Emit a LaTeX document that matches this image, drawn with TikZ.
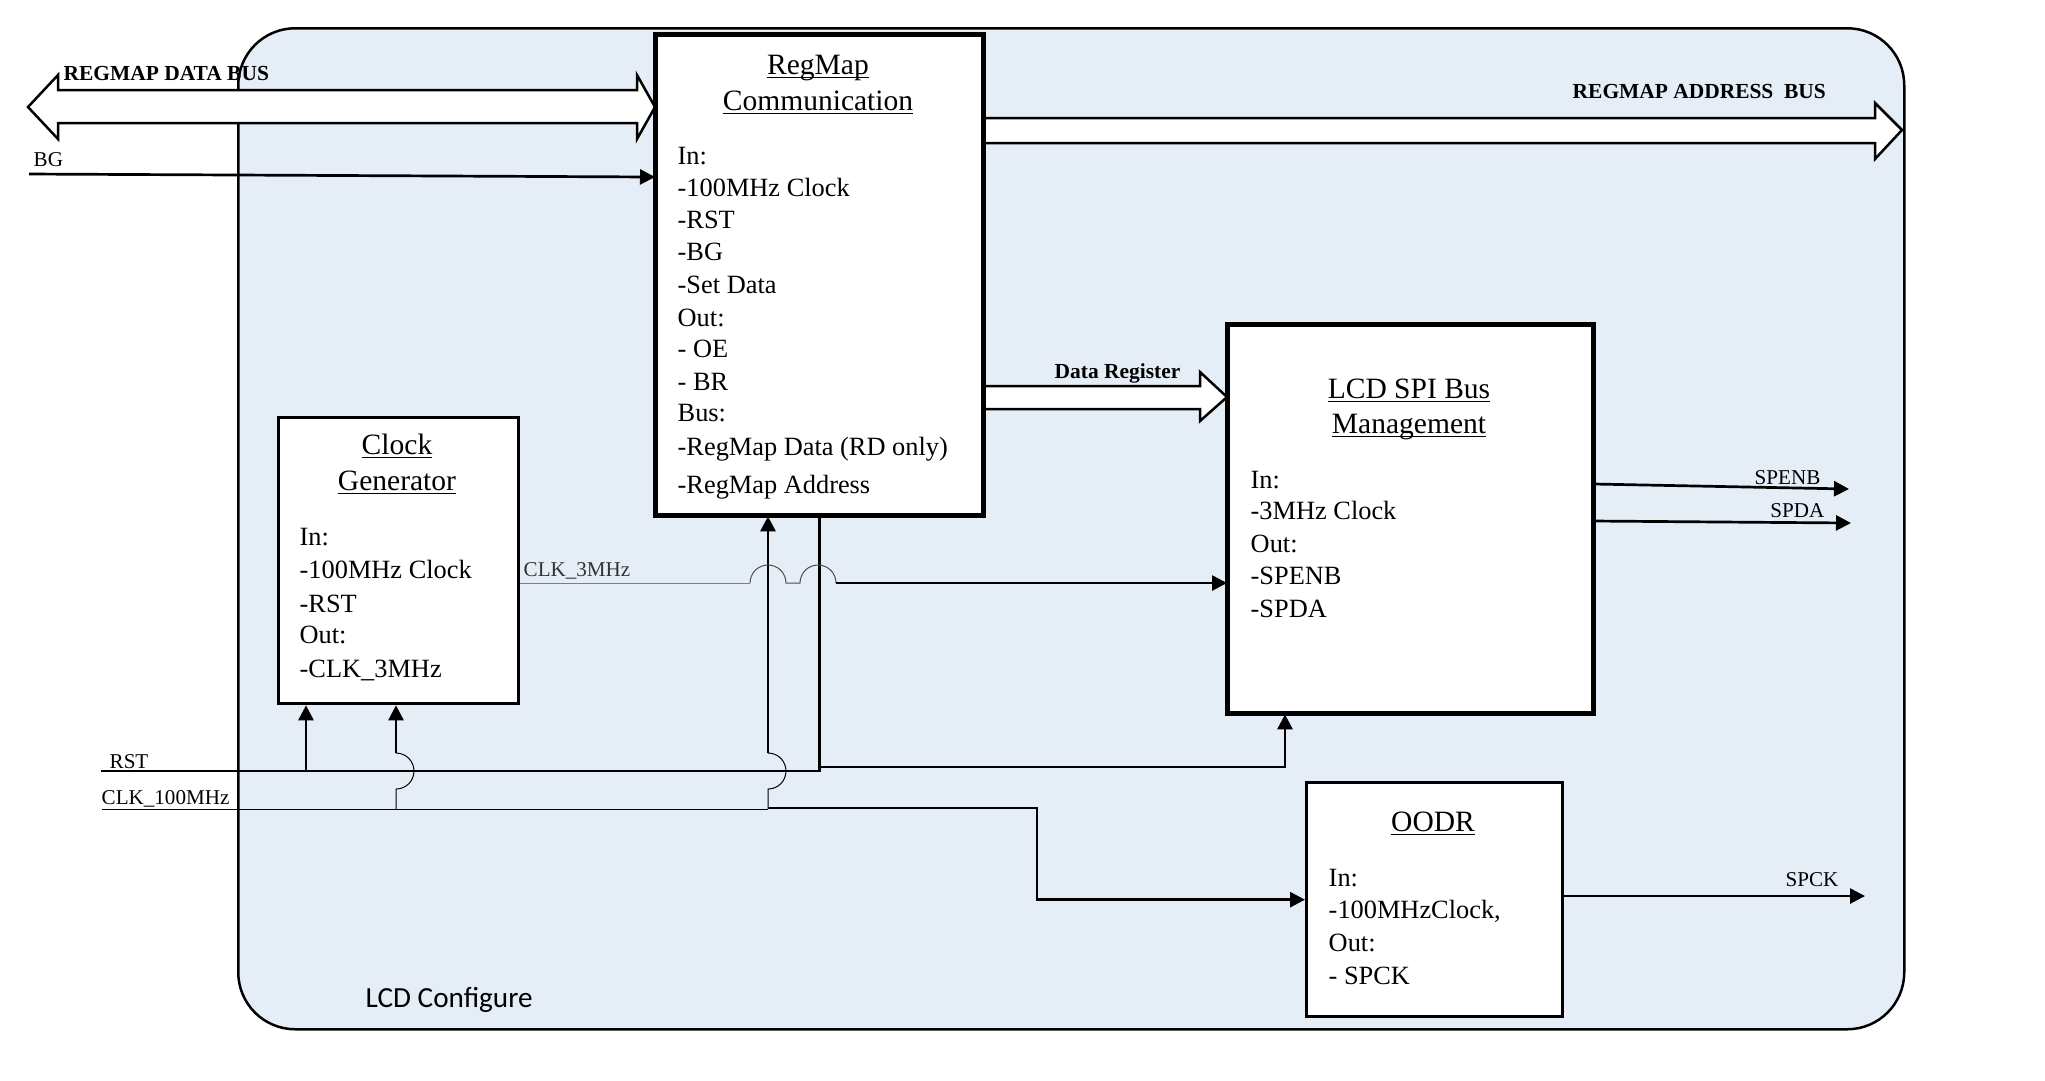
\documentclass[tikz,border=0pt]{standalone}
\usepackage{fontspec}
\setmainfont{Liberation Serif}
\newfontfamily\califont{Carlito}
\usetikzlibrary{arrows.meta}
\definecolor{cfgfill}{HTML}{E5EDF7}
\definecolor{wiregray}{HTML}{7F7F7F}
\newcommand{\ulx}[1]{\setbox0\hbox{#1}\rlap{\rule[-1.1pt]{\wd0}{0.35pt}}\box0}
\begin{document}
\begin{tikzpicture}[x=0.1mm,y=-0.1mm,
  blockbox/.style={draw,line width=0.33mm,fill=white,inner sep=0,anchor=north west},
  wire/.style={line width=0.27mm},
  arr/.style={wire,-{Triangle[length=1.5mm,width=1.5mm]}},
  thinwire/.style={line width=0.1mm},
  bus/.style={line width=0.25mm,fill=white,line join=miter},
  bodytxt/.style={inner sep=0,anchor=base west,font=\fontsize{7.5}{9}\selectfont},
  ttl/.style={inner sep=0,anchor=base,font=\fontsize{8.4}{10}\selectfont},
  lbl/.style={inner sep=0,font=\fontsize{6}{7}\selectfont},
  blbl/.style={inner sep=0,anchor=base west,font=\fontsize{6.1}{7}\selectfont\bfseries}]
\useasboundingbox (0,0) rectangle (2045,1080);

% container
\node[draw,line width=0.25mm,fill=cfgfill,rounded corners=5.7mm,inner sep=0,
      anchor=north west,minimum width=166.6mm,minimum height=100.1mm] (cfg) at (237,27) {};
\node[inner sep=0,anchor=base west,font=\califont\fontsize{8.3}{10}\selectfont] (cfglbl) at (365,1007) {LCD Configure};

% blocks
\node[blockbox,minimum width=32.6mm,minimum height=47.9mm] (regmap) at (655,34) {};
\node[blockbox,minimum width=24.0mm,minimum height=28.6mm] (clockgen) at (277,416) {};
\node[blockbox,minimum width=36.4mm,minimum height=38.7mm] (lcd) at (1227,324) {};
\node[blockbox,minimum width=25.6mm,minimum height=23.4mm] (oodr) at (1305,781) {};

% data bus (double arrow)
\draw[bus] (28,107) -- (58,75) -- (58,90) -- (637,90) -- (637,75) -- (regmap.west |- 0,107)
  -- (637,139) -- (637,123) -- (58,123) -- (58,139) -- cycle;
\node[blbl] (dbuslbl) at (63,80) {REGMAP DATA BUS};

% address bus
\draw[bus] (regmap.east |- 0,118) -- (1875,118) -- (1875,103) -- (1902,130) -- (1875,159)
  -- (1875,143) -- (regmap.east |- 0,143);
\node[blbl] (abuslbl) at (1572,98) {REGMAP ADDRESS\ \ BUS};

% data register bus
\draw[bus] (regmap.east |- 0,386) -- (1200,386) -- (1200,372) -- (lcd.west |- 0,397)
  -- (1200,421) -- (1200,409) -- (regmap.east |- 0,409);
\node[blbl] (drlbl) at (1054,378) {Data Register};

% redraw block borders on top of bus tips
\draw[line width=0.33mm] (regmap.north west) rectangle (regmap.south east);
\draw[line width=0.33mm] (lcd.north west) rectangle (lcd.south east);

% RegMap text
\node[ttl] (rmt1) at (818,74) {\ulx{RegMap}};
\node[ttl] (rmt2) at (818,110) {\ulx{Communication}};
\foreach \t/\yy [count=\i] in {In:/164, -100MHz Clock/196, -RST/228, -BG/260, -Set Data/293,
    Out:/326, - OE/357, - BR/390, Bus:/421, -RegMap Data (RD only)/455, -RegMap Address/493}
  \node[bodytxt] (rmb\i) at (677,\yy) {\t};

% Clock generator text
\node[ttl] (cgt1) at (397,454) {\ulx{Clock}};
\node[ttl] (cgt2) at (397,490) {\ulx{Generator}};
\foreach \t/\yy [count=\i] in {In:/545, -100MHz Clock/578, -RST/612, Out:/643, -CLK\_3MHz/677}
  \node[bodytxt] (cgb\i) at (299,\yy) {\t};

% LCD SPI text
\node[ttl] (lct1) at (1409,398) {\ulx{LCD SPI Bus}};
\node[ttl] (lct2) at (1409,433) {\ulx{Management}};
\foreach \t/\yy [count=\i] in {In:/488, -3MHz Clock/519, Out:/552, -SPENB/584, -SPDA/617}
  \node[bodytxt] (lcb\i) at (1250,\yy) {\t};

% OODR text
\node[ttl] (oot1) at (1433,831) {\ulx{OODR}};
\node[bodytxt] (oob1) at (1328,886) {In:};
\node[bodytxt] (oob2) at (1328,918) {-100MHzClock,};
\node[bodytxt] (oob3) at (1328,951) {Out:};
\node[bodytxt] (oob4) at (1328,984) {- SPCK};

% BG
\coordinate (bgsrc) at (29,174);
\node[lbl,anchor=base west] (bglbl) at (33,166) {BG};
\draw[arr] (bgsrc) -- (regmap.west |- 0,177);

% RST
\coordinate (rstsrc) at (101,771);
\coordinate (rstcg) at (306,771);
\node[lbl,anchor=base west] (rstlbl) at (109,768) {RST};
\draw[wire] (rstsrc) -- (regmap.south |- 0,771) -- (regmap.south);
\draw[arr] (rstcg) -- (clockgen.south -| rstcg);
\draw[arr] (regmap.south |- 0,767) -| (lcd.south -| 1285,0);

% CLK_100MHz
\coordinate (c100src) at (102,809);
\coordinate (c100j) at (768,809);
\node[lbl,anchor=base west] (c100lbl) at (101,804) {CLK\_100MHz};
\draw[thinwire] (c100src) -- (c100j);
\draw[thinwire] (396,809) -- (396,789) arc(90:-90:18);
\draw[arr] (396,753) -- (clockgen.south -| 396,0);
\draw[thinwire] (c100j) -- (768,789) arc(90:-90:18);
\draw[arr] (768,753) -- (regmap.south -| 768,0);
\draw[arr] (768,808) -- (1037,808) |- (oodr.west);

% CLK_3MHz
\node[lbl,anchor=base west,text=black!80] (c3lbl) at (523,576) {CLK\_3MHz};
\draw[thinwire,draw=wiregray] (clockgen.east |- 0,583) -- (750,583);
\draw[thinwire,draw=black!70] (750,583) arc(-180:0:18) -- (800,583) arc(-180:0:18);
\draw[arr] (836,583) -- (lcd.west |- 0,583);

% outputs
\node[lbl,anchor=base east] (spenblbl) at (1821,484) {SPENB};
\node[lbl,anchor=base east] (spdalbl) at (1825,517) {SPDA};
\node[lbl,anchor=base east] (spcklbl) at (1839,886) {SPCK};
\coordinate (spenbo) at (1849,489);
\coordinate (spdao) at (1851,523);
\coordinate (spcko) at (1865,896);
\draw[arr] (lcd.east |- 0,484) -- (spenbo);
\draw[arr] (lcd.east |- 0,521) -- (spdao);
\draw[arr] (oodr.east |- 0,896) -- (spcko);
\end{tikzpicture}
\end{document}
